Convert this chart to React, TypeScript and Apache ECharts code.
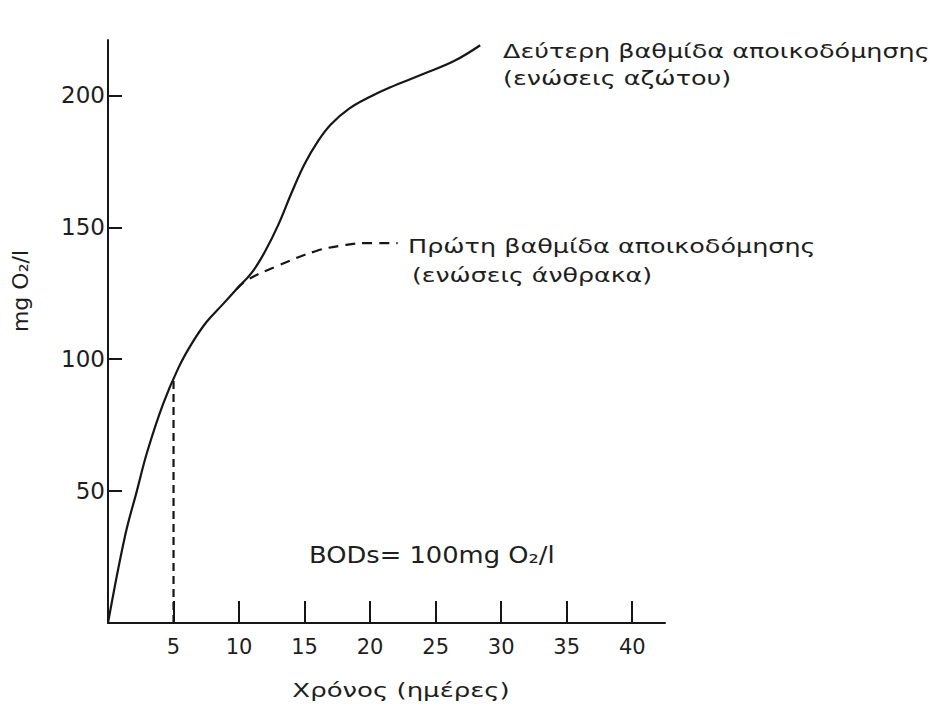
import React, { useEffect, useRef } from "react";
import * as echarts from "echarts";

// ---- data ----
const xTicks = [5, 10, 15, 20, 25, 30, 35, 40];
const yTicks = [50, 100, 150, 200];
const xMax = 42.5;
const yMax = 221;

// second stage (nitrogen compounds) - solid curve [day, mg O2/l]
const secondStage: [number, number][] = [
  [0, 0], [1.3, 33], [2.2, 50], [3.0, 65], [4.2, 83], [5.4, 97], [6.4, 106],
  [7.5, 114], [8.7, 120.5], [9.8, 126.5], [11, 133], [12, 141], [13, 151],
  [14, 163], [15, 174], [16, 182.5], [17, 189], [18.4, 195], [20, 199.5],
  [21.5, 203], [24, 208], [26.4, 213], [28.4, 219],
];
// first stage (carbon compounds) - dashed branch
const firstStage: [number, number][] = [
  [9.8, 126.5], [10.6, 130.0], [13.0, 135.5], [16.0, 141.2], [18.0, 143.2],
  [19.6, 144.0], [22.1, 144.0],
];
// BOD5 marker
const bod5Line: [number, number][] = [[5, 0], [5, 93]];

const secondLabel = ["Δεύτερη βαθμίδα αποικοδόμησης", "(ενώσεις αζώτου)"];
const firstLabel = ["Πρώτη βαθμίδα αποικοδόμησης", "(ενώσεις άνθρακα)"];
const bodLabel = "BODs= 100mg O₂/l";
const yName = "mg O₂/l";
const xName = "Χρόνος (ημέρες)";

const FONT = '"DejaVu Sans", "Noto Sans", sans-serif';
const INK = "#161616";

function txt(text: string, x: number, y: number, size: number, sx: number, align = "left", rotation = 0) {
  return {
    type: "text",
    x,
    y,
    scaleX: sx,
    rotation,
    silent: true,
    style: {
      text,
      fontSize: size,
      fontFamily: FONT,
      fill: "#1e1e1e",
      textAlign: align,
      align,
      textVerticalAlign: "middle",
      verticalAlign: "middle",
    },
  };
}

export default function App() {
  const ref = useRef<HTMLDivElement>(null);
  useEffect(() => {
    if (!ref.current) return;
    const chart = echarts.init(ref.current, null, { renderer: "svg" });
    chart.setOption({
      animation: false,
      backgroundColor: "#ffffff",
      grid: { left: 108, right: 273, top: 40, bottom: 86, containLabel: false },
      xAxis: {
        type: "value",
        min: 0,
        max: xMax,
        interval: 5,
        splitLine: { show: false },
        axisLine: { show: true, lineStyle: { color: INK, width: 2 } },
        axisTick: { show: true, inside: true, length: 22, lineStyle: { color: INK, width: 2 }, customValues: xTicks },
        axisLabel: {
          customValues: xTicks,
          margin: 13,
          fontSize: 21,
          fontFamily: FONT,
          color: "#1e1e1e",
          formatter: (v: number) => (xTicks.includes(v) ? String(v) : ""),
        },
      },
      yAxis: {
        type: "value",
        min: 0,
        max: yMax,
        interval: 50,
        splitLine: { show: false },
        axisLine: { show: true, lineStyle: { color: INK, width: 2 } },
        axisTick: { show: true, inside: true, length: 14, lineStyle: { color: INK, width: 2 }, customValues: yTicks },
        axisLabel: {
          customValues: yTicks,
          margin: 3,
          fontSize: 23,
          fontFamily: FONT,
          color: "#1e1e1e",
          formatter: (v: number) => (yTicks.includes(v) ? String(v) : ""),
        },
      },
      series: [
        {
          type: "line",
          data: secondStage,
          smooth: 0.4,
          showSymbol: false,
          clip: false,
          lineStyle: { color: INK, width: 2.2 },
        },
        {
          type: "line",
          data: firstStage,
          smooth: 0.4,
          showSymbol: false,
          clip: false,
          lineStyle: { color: INK, width: 2.2, type: [10, 7] },
        },
        {
          type: "line",
          data: bod5Line,
          showSymbol: false,
          lineStyle: { color: INK, width: 2.2, type: [8, 5] },
        },
      ],
      graphic: [
        txt(secondLabel[0], 503, 51.5, 19, 1.34),
        txt(secondLabel[1], 503, 78.5, 19, 1.34),
        txt(firstLabel[0], 408, 246.5, 19, 1.34),
        txt(firstLabel[1], 412, 275.5, 19, 1.33),
        txt(bodLabel, 309, 555, 23, 1.12),
        txt(xName, 401, 690, 20, 1.3, "center"),
        txt(yName, 21, 291, 21, 1.05, "center", Math.PI / 2),
      ],
    });
    return () => chart.dispose();
  }, []);
  return (
    <div
      ref={ref}
      style={{ position: "absolute", left: 0, top: 0, width: 938, height: 709, background: "#fff" }}
    />
  );
}
